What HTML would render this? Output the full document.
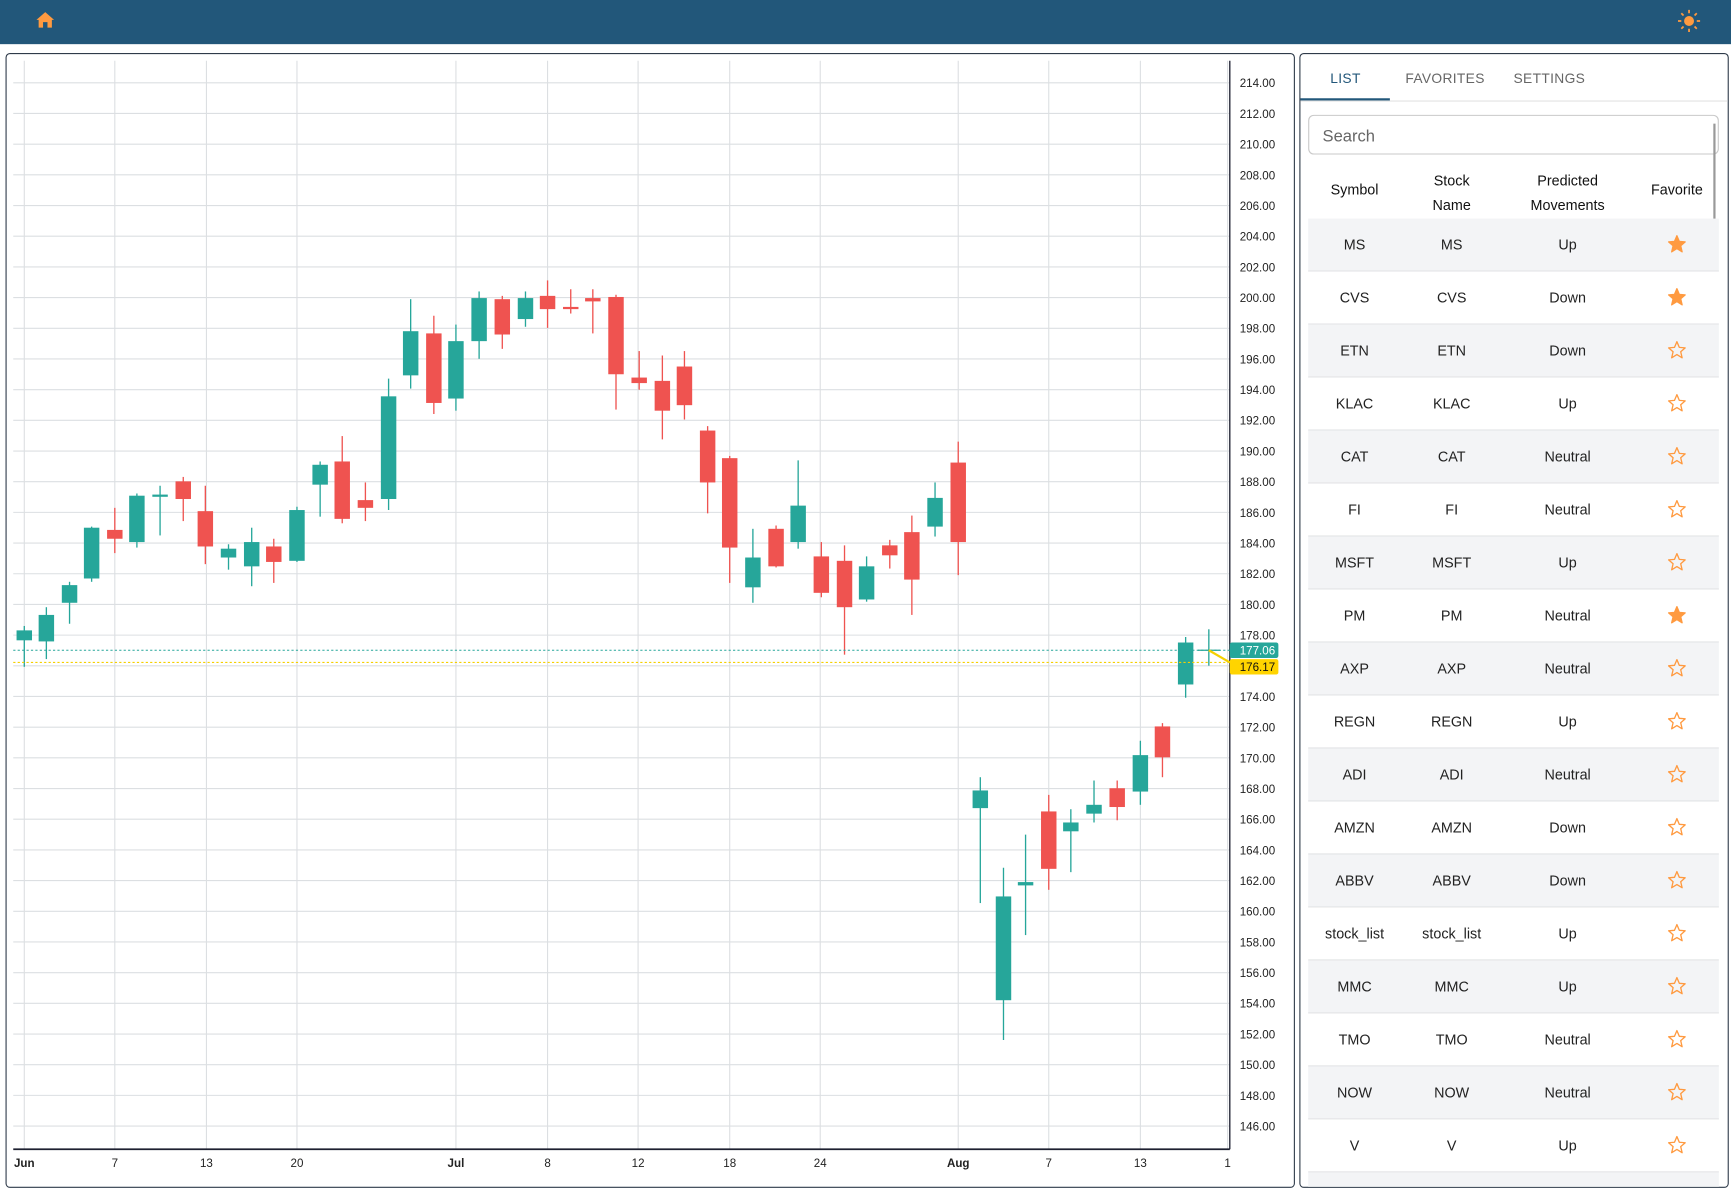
<!DOCTYPE html>
<html><head><meta charset="utf-8"><style>
html,body{margin:0;padding:0;width:1731px;height:1189px;overflow:hidden;background:#fff;font-family:"Liberation Sans",sans-serif}
#c{position:absolute;left:0;top:0;width:1568px;height:1077px;transform:scale(1.10395,1.10399);transform-origin:0 0}
.hdr{position:absolute;left:0;top:0;width:1568px;height:40px;background:#22577a}
.panel{position:absolute;border:1px solid #2f3b4a;border-radius:4px;box-sizing:border-box}
.tab{position:absolute;top:64px;font-size:12.5px;color:#666;letter-spacing:.3px}
.row{position:absolute;left:1185px;width:372px;height:47px;border-bottom:1px solid #e2e3e5;font-size:13px;color:#222}
.row span,.th span{position:absolute;transform:translateX(-50%);white-space:nowrap;text-align:center}
.th{position:absolute;left:1185px;top:145px;width:372px;height:53px;font-size:13px;color:#111}
</style></head><body><div id="c">
<div class="hdr"></div>
<svg style="position:absolute;left:32px;top:10px" width="18" height="16" viewBox="0 0 18 16"><path d="M9 1 L17 8 L15 8 L15 15 L11 15 L11 10 L7 10 L7 15 L3 15 L3 8 L1 8 Z" fill="#ff9a40"/></svg>
<svg style="position:absolute;left:1519px;top:8px" width="22" height="22" viewBox="0 0 22 22"><circle cx="11" cy="11" r="4.5" fill="#ff9a40"/><g stroke="#ff9a40" stroke-width="1.6"><line x1="11" y1="1" x2="11" y2="4"/><line x1="11" y1="18" x2="11" y2="21"/><line x1="1" y1="11" x2="4" y2="11"/><line x1="18" y1="11" x2="21" y2="11"/><line x1="4" y1="4" x2="6" y2="6"/><line x1="16" y1="16" x2="18" y2="18"/><line x1="4" y1="18" x2="6" y2="16"/><line x1="16" y1="6" x2="18" y2="4"/></g></svg>
<div class="panel" style="left:5px;top:48px;width:1168px;height:1028px"></div>
<svg id="ch" style="position:absolute;left:0;top:0" width="1568" height="1077" font-family="Liberation Sans, sans-serif"></svg>
<div class="panel" style="left:1177px;top:48px;width:389px;height:1028px"></div>
<div class="tab" style="left:1205px;color:#22577a">LIST</div>
<div class="tab" style="left:1273px">FAVORITES</div>
<div class="tab" style="left:1371px">SETTINGS</div>
<div style="position:absolute;left:1178px;top:91px;width:387px;height:1px;background:#e2e2e2"></div>
<div style="position:absolute;left:1178px;top:89px;width:81px;height:2px;background:#22577a"></div>
<div style="position:absolute;left:1185px;top:104px;width:372px;height:36px;border:1px solid #c9c9c9;border-radius:5px;box-sizing:border-box"></div>
<div style="position:absolute;left:1198px;top:115px;font-size:15px;color:#666">Search</div>
<div style="position:absolute;left:1552px;top:112px;width:2px;height:96px;background:#999"></div>
<div class="th"><span style="left:42px;top:19px">Symbol</span><span style="left:130px;top:8px;line-height:22px">Stock<br>Name</span><span style="left:235px;top:8px;line-height:22px">Predicted<br>Movements</span><span style="left:334px;top:19px">Favorite</span></div>
<div id="rows"></div>
</div>
<script>
const S='http://www.w3.org/2000/svg',svg=document.getElementById('ch');
function el(t,a,txt){const e=document.createElementNS(S,t);for(const k in a)e.setAttribute(k,a[k]);if(txt!=null)e.textContent=txt;svg.appendChild(e);return e;}
const y=p=>75+(214-p)*13.897;
for(let p=214;p>=146;p-=2){el('line',{x1:12,x2:1114,y1:y(p),y2:y(p),stroke:'#dcdfe2','stroke-width':1});el('text',{x:1123,y:y(p)+4,'font-size':10.5,fill:'#222'},p.toFixed(2));}
const xs=[[22,'Jun',1],[104,'7'],[187,'13'],[269,'20'],[413,'Jul',1],[496,'8'],[578,'12'],[661,'18'],[743,'24'],[868,'Aug',1],[950,'7'],[1033,'13'],[1112,'1']];
xs.forEach(a=>{el('line',{x1:a[0],x2:a[0],y1:55,y2:1041,stroke:'#dcdfe2'});el('text',{x:a[0],y:1057,'font-size':10.5,'text-anchor':'middle','font-weight':a[2]?'bold':'normal',fill:'#222'},a[1]);});
el('line',{x1:1114,x2:1114,y1:55,y2:1041,stroke:'#1e2030','stroke-width':1.2});
el('line',{x1:12,x2:1114,y1:1041,y2:1041,stroke:'#1e2030','stroke-width':1.5});
const G='#26a69a',R='#ef5350';
const c=[[22,G,571,580,567,604],[42,G,557,581,550,597],[63,G,530,546,527,565],[83,G,478,524,477,527],[104,R,480,488,460,501],[124,G,449,491,447,496],[145,G,448,450,440,485],[166,R,436,452,432,472],[186,R,463,495,440,511],[207,G,497,505,493,516],[228,G,491,513,478,531],[248,R,495,509,488,528],[269,G,462,508,459,509],[290,G,421,439,418,468],[310,R,418,470,395,474],[331,R,453,460,437,472],[352,G,359,452,343,462],[372,G,300,340,271,352],[393,R,302,365,286,375],[413,G,309,361,294,372],[434,G,270,309,264,325],[455,R,271,303,268,316],[476,G,270,289,264,296],[496,R,268,280,254,297],[517,R,278,280,262,284],[537,R,270,273,262,302],[558,R,269,339,267,371],[579,R,342,347,318,353],[600,R,345,372,322,398],[620,R,332,367,318,380],[641,R,390,437,386,465],[661,R,415,496,413,528],[682,G,505,532,479,546],[703,R,479,513,476,514],[723,G,458,491,417,497],[744,R,504,537,491,541],[765,R,508,550,494,593],[785,G,513,543,504,545],[806,R,494,503,489,515],[826,R,482,525,467,557],[847,G,451,477,437,486],[868,R,419,491,400,521],[888,G,716,732,704,818],[909,G,812,906,786,942],[929,G,799,802,756,847],[950,R,735,787,720,806],[970,G,745,753,733,790],[991,G,729,737,707,745],[1012,R,714,731,707,743],[1033,G,684,717,671,729],[1053,R,658,686,655,704],[1074,G,582,620,577,632]];
c.forEach(d=>{el('line',{x1:d[0],x2:d[0],y1:d[4],y2:d[5],stroke:d[1],'stroke-width':1.2});el('rect',{x:d[0]-7,y:d[2],width:14,height:Math.max(2,d[3]-d[2]),fill:d[1]});});
el('line',{x1:1095,x2:1095,y1:570,y2:603,stroke:G,'stroke-width':1.2});el('line',{x1:1085,x2:1105,y1:589,y2:589,stroke:G,'stroke-width':1.2});
el('line',{x1:12,x2:1114,y1:589,y2:589,stroke:G,'stroke-dasharray':'2 2'});
el('line',{x1:12,x2:1114,y1:600,y2:600,stroke:'#f5d000','stroke-dasharray':'2 2'});
el('line',{x1:1095,x2:1114,y1:589,y2:600,stroke:'#f5d000','stroke-width':2});
el('rect',{x:1114,y:582,width:44,height:14,fill:G,rx:2});el('text',{x:1123,y:593,'font-size':10.5,fill:'#fff'},'177.06');
el('rect',{x:1114,y:597,width:44,height:14,fill:'#ffd400',rx:2});el('text',{x:1123,y:608,'font-size':10.5,fill:'#111'},'176.17');
const rows=[['MS','Up',1],['CVS','Down',1],['ETN','Down'],['KLAC','Up'],['CAT','Neutral'],['FI','Neutral'],['MSFT','Up'],['PM','Neutral',1],['AXP','Neutral'],['REGN','Up'],['ADI','Neutral'],['AMZN','Down'],['ABBV','Down'],['stock_list','Up'],['MMC','Up'],['TMO','Neutral'],['NOW','Neutral'],['V','Up'],['','']];
let h='';
rows.forEach((r,i)=>{const top=198+i*48;const hh=i==18?13:47;
const star=r[0]?`<svg style="position:absolute;left:325px;top:14px" width="18" height="18" viewBox="0 0 24 24"><path d="M12 2l2.9 6.9 7.1.6-5.4 4.7 1.7 7.3L12 17.6 5.7 21.5l1.7-7.3L2 9.5l7.1-.6z" fill="${r[2]?'#ff9a40':'none'}" stroke="#ff9a40" stroke-width="1.6" stroke-linejoin="round"/></svg>`:'';
h+=`<div class="row" style="top:${top}px;height:${hh}px;background:${i%2==0?'#f3f4f6':'#fff'};${i==18?'border:none':''}">${r[0]?`<span style="left:42px;top:16px">${r[0]}</span><span style="left:130px;top:16px">${r[0]}</span><span style="left:235px;top:16px">${r[1]}</span>`:''}${star}</div>`;});
document.getElementById('rows').innerHTML=h;
</script>
</body></html>
